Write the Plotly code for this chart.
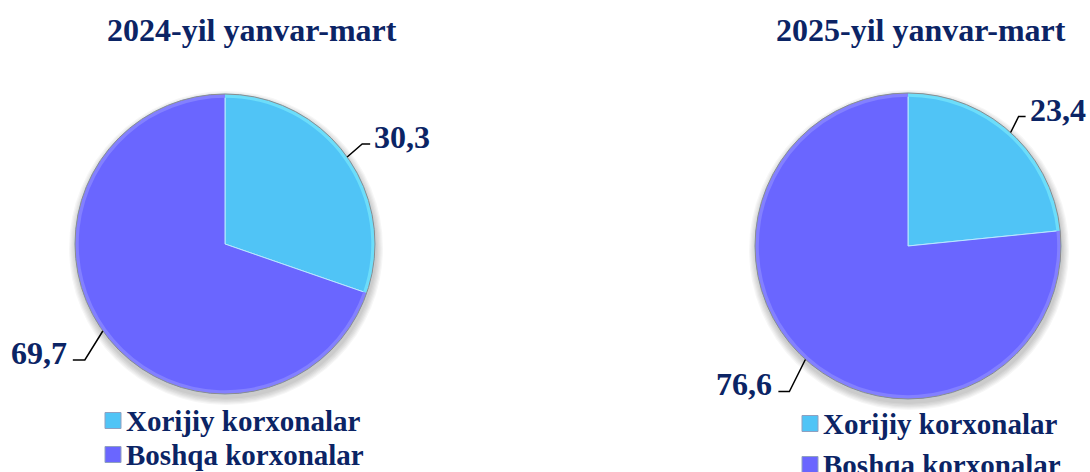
import math
import plotly.graph_objects as go

# ---- data ----
categories = ["Xorijiy korxonalar", "Boshqa korxonalar"]
titles = ["2024-yil yanvar-mart", "2025-yil yanvar-mart"]
values_2024 = [30.3, 69.7]
values_2025 = [23.4, 76.6]

# ---- style / layout ----
W, H = 1090, 472
colors = ["#50C4F6", "#6A66FF"]
rim_colors = ["#6CDDFA", "#8380FF"]
navy = "#0B2465"
font_family = "Liberation Serif, Times New Roman, serif"

# pie geometry in window pixels: (cx, cy, r)
pies = [(225, 244, 150), (908, 246, 153)]
title_pos = [(252, 30), (921, 30)]
# leader elbow offsets (dx, dy) and horizontal run per slice, per pie
leader = [
    [(15, -13, 8), (-18, 29, -12)],
    [(8, -16, 7), (-16, 32, -11)],
]
legend_pos = [(105, 420.5, 34), (802, 423.5, 41)]  # square left x, first row center y, row step


def px(x):
    return x / W


def py(y):
    return 1 - y / H


fig = go.Figure()
annotations = []
shapes = []

for i, vals in enumerate([values_2024, values_2025]):
    cx, cy, r = pies[i]
    # subtle shadow under pie
    for k in range(6):
        rr = r + 1 + k * 1.2
        shapes.append(dict(type="circle", xref="paper", yref="paper",
                           x0=px(cx - rr + 1), x1=px(cx + rr + 1),
                           y0=py(cy + 4 + rr), y1=py(cy + 4 - rr),
                           fillcolor="rgba(0,0,0,0.035)", line=dict(width=0),
                           layer="below"))
    dom = dict(x=[px(cx - r), px(cx + r)], y=[py(cy + r), py(cy - r)])
    fig.add_trace(go.Pie(
        labels=categories, values=vals, sort=False, direction="clockwise",
        rotation=0, textinfo="none", hoverinfo="label+value",
        marker=dict(colors=colors, line=dict(color="#B8E8FF", width=1)),
        domain=dom, showlegend=False,
    ))
    # bevel rim
    fig.add_trace(go.Pie(
        labels=categories, values=vals, sort=False, direction="clockwise",
        rotation=0, textinfo="none", hoverinfo="skip", hole=0.975,
        marker=dict(colors=rim_colors, line=dict(width=0)),
        domain=dom, showlegend=False,
    ))
    shapes.append(dict(type="circle", xref="paper", yref="paper",
                       x0=px(cx - r), x1=px(cx + r), y0=py(cy + r), y1=py(cy - r),
                       line=dict(color="#8C8C8C", width=1), layer="above"))
    total = sum(vals)
    cum = 0
    for j, v in enumerate(vals):
        mid = (cum + v / 2) / total * 2 * math.pi
        cum += v
        sx = cx + r * math.sin(mid)
        sy = cy - r * math.cos(mid)
        dx, dy, hr = leader[i][j]
        ex, ey = sx + dx, sy + dy
        fx = ex + hr
        shapes.append(dict(type="path", xref="paper", yref="paper",
                           path=f"M {px(sx)} {py(sy)} L {px(ex)} {py(ey)} L {px(fx)} {py(ey)}",
                           line=dict(color="black", width=1.5)))
        txt = f"{v:.1f}".replace(".", ",")
        annotations.append(dict(
            x=px(fx + (2 if hr > 0 else -4)), y=py(ey - 7), xref="paper", yref="paper",
            text=f"<b>{txt}</b>", showarrow=False,
            xanchor="left" if hr > 0 else "right", yanchor="middle",
            font=dict(family=font_family, size=32, color=navy)))
    # title
    tx, ty = title_pos[i]
    annotations.append(dict(x=px(tx), y=py(ty), xref="paper", yref="paper",
                            text=f"<b>{titles[i]}</b>", showarrow=False,
                            xanchor="center", yanchor="middle",
                            font=dict(family=font_family, size=32, color=navy)))
    # legend
    lx, ly, step = legend_pos[i]
    for j, cat in enumerate(categories):
        yc = ly + j * step
        shapes.append(dict(type="rect", xref="paper", yref="paper",
                           x0=px(lx), x1=px(lx + 16), y0=py(yc + 8), y1=py(yc - 8),
                           fillcolor=colors[j], line=dict(color="#8FA0C0", width=1)))
        annotations.append(dict(x=px(lx + 19), y=py(yc), xref="paper", yref="paper",
                                text=f"<b>{cat}</b>", showarrow=False,
                                xanchor="left", yanchor="middle",
                                font=dict(family=font_family, size=29, color=navy)))

fig.update_layout(
    width=W, height=H, margin=dict(l=0, r=0, t=0, b=0),
    paper_bgcolor="white", plot_bgcolor="white",
    annotations=annotations, shapes=shapes,
)

fig.write_html(
    "out.html",
    config={"displayModeBar": False},
    post_script="document.body.style.margin='0';document.body.style.overflow='hidden';"
                "document.documentElement.style.overflow='hidden';",
)
